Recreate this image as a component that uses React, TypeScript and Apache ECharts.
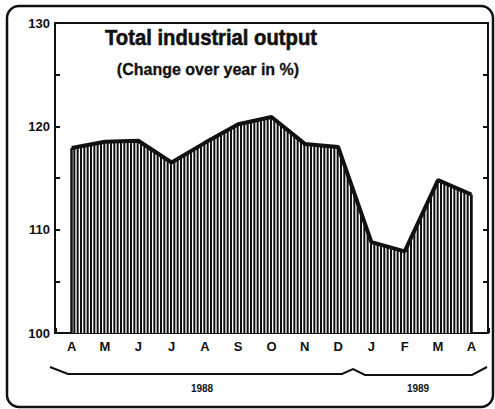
import React, { useEffect, useRef } from "react";
import * as echarts from "echarts";

const months = ["A", "M", "J", "J", "A", "S", "O", "N", "D", "J", "F", "M", "A"];
const output = [117.9, 118.5, 118.6, 116.5, 118.4, 120.2, 120.9, 118.3, 118.0, 108.8, 107.9, 114.8, 113.4];
const yMin = 100;
const yMax = 130;
const yStep = 5;
const titleText = "Total industrial output";
const subtitleText = "(Change over year in %)";
const yearLabels = ["1988", "1989"];

const FONT = "'Liberation Sans', Arial, Helvetica, sans-serif";

function makeHatch(): HTMLCanvasElement {
  const c = document.createElement("canvas");
  c.width = 10;
  c.height = 10;
  const ctx = c.getContext("2d")!;
  ctx.fillStyle = "#ffffff";
  ctx.fillRect(0, 0, 10, 10);
  ctx.fillStyle = "#111111";
  [0, 3.33, 6.67].forEach((x) => ctx.fillRect(x, 0, 2, 10));
  return c;
}

export default function App() {
  const ref = useRef<HTMLDivElement>(null);
  useEffect(() => {
    if (!ref.current) return;
    const chart = echarts.init(ref.current, undefined, { renderer: "svg" });
    const hatch = makeHatch();
    const last = months.length - 1;
    const textStyle = (text: string, size: number, stroke = 0) => ({
      text,
      fontFamily: FONT,
      fontWeight: "bold",
      fontSize: size,
      fill: "#111",
      stroke: stroke > 0 ? "#111" : undefined,
      lineWidth: stroke,
      align: "center",
      verticalAlign: "middle",
    });
    chart.setOption({
      animation: false,
      backgroundColor: "#ffffff",
      grid: {
        left: 55,
        right: 7,
        top: 23,
        bottom: 76,
        show: true,
        borderColor: "#111",
        borderWidth: 2,
        backgroundColor: "transparent",
      },
      xAxis: {
        type: "category",
        data: months,
        boundaryGap: true,
        axisLine: { show: true, lineStyle: { color: "#111", width: 2 } },
        axisTick: { show: true, inside: true, length: 5, lineStyle: { color: "#111", width: 3 } },
        axisLabel: {
          color: "#111",
          fontFamily: FONT,
          fontWeight: "bold",
          fontSize: 13,
          margin: 7,
        },
        splitLine: { show: false },
      },
      yAxis: [
        {
          type: "value",
          min: yMin,
          max: yMax,
          interval: yStep,
          position: "left",
          axisLine: { show: true, lineStyle: { color: "#111", width: 2 } },
          axisTick: { show: true, inside: true, length: 5, lineStyle: { color: "#111", width: 2 } },
          axisLabel: {
            color: "#111",
            fontFamily: FONT,
            fontWeight: "bold",
            fontSize: 13,
            margin: 5,
            formatter: (v: number) => (v % 10 === 0 ? String(v) : ""),
          },
          splitLine: { show: false },
        },
        {
          type: "value",
          min: yMin,
          max: yMax,
          interval: yStep,
          position: "right",
          axisLine: { show: true, lineStyle: { color: "#111", width: 2 } },
          axisTick: { show: true, inside: true, length: 5, lineStyle: { color: "#111", width: 2 } },
          axisLabel: { show: false },
          splitLine: { show: false },
        },
      ],
      series: [
        {
          type: "line",
          data: output,
          symbol: "none",
          lineStyle: { color: "#111", width: 4 },
          areaStyle: {
            color: { image: hatch, repeat: "repeat" } as any,
            opacity: 1,
            origin: "start",
          },
          markLine: {
            silent: true,
            symbol: "none",
            label: { show: false },
            lineStyle: { color: "#111", width: 2.5, type: "solid" },
            data: [
              [{ coord: [0, yMin] }, { coord: [0, output[0]] }],
              [{ coord: [last, yMin] }, { coord: [last, output[last]] }],
            ],
          },
        },
      ],
      graphic: [
        {
          type: "rect",
          shape: { x: 7, y: 6, width: 486, height: 401, r: 12 },
          style: { fill: "none", stroke: "#111", lineWidth: 2.5 },
          z: -1,
        },
        {
          type: "text",
          x: 211,
          y: 37,
          scaleX: 0.92,
          style: textStyle(titleText, 22, 0.6),
        },
        {
          type: "text",
          x: 208,
          y: 69,
          style: textStyle(subtitleText, 16, 0.3),
        },
        {
          type: "polyline",
          shape: {
            points: [
              [50, 367],
              [68, 374],
              [342, 374],
              [353, 369],
              [365, 375],
              [472, 375],
              [487, 367],
            ],
          },
          style: { fill: "none", stroke: "#111", lineWidth: 2 },
        },
        {
          type: "text",
          x: 202,
          y: 388,
          style: textStyle(yearLabels[0], 10),
        },
        {
          type: "text",
          x: 418,
          y: 388,
          style: textStyle(yearLabels[1], 10),
        },
      ],
    });
    return () => chart.dispose();
  }, []);
  return (
    <div
      ref={ref}
      style={{ position: "absolute", left: 0, top: 0, width: 495, height: 409 }}
    />
  );
}
